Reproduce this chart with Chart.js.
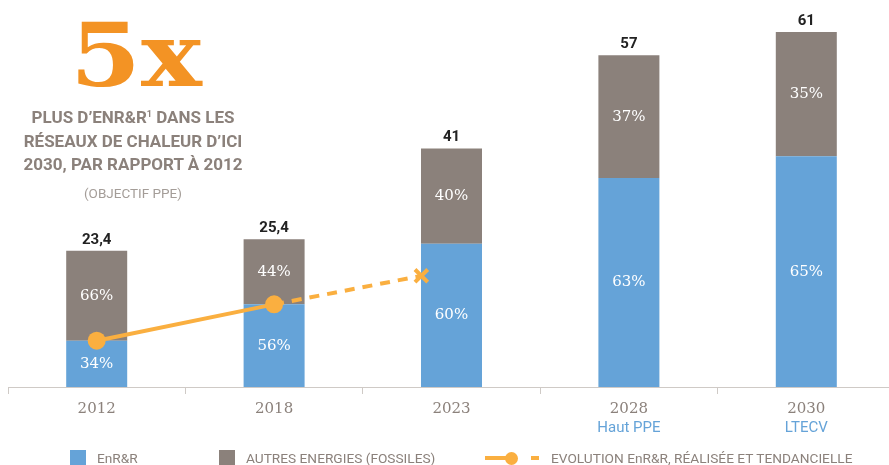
<!DOCTYPE html>
<html><head><meta charset="utf-8">
<script src="https://cdn.jsdelivr.net/npm/chart.js@4.4.1/dist/chart.umd.min.js"></script>
<style>
html,body{margin:0;padding:0;background:#fff;overflow:hidden;width:889px;height:465px;}
#wrap{position:absolute;left:0;top:0;width:895px;height:465px;}
.abs{position:absolute;white-space:nowrap;}
#big{left:3px;top:11px;width:266px;height:88px;text-align:center;font-family:'DejaVu Serif';font-weight:bold;font-size:88px;line-height:88px;color:#F39324;transform:scaleX(1.16);transform-origin:133px 50%;}
#head{left:0;top:106px;width:266px;text-align:center;font:bold 17px/23.5px Roboto,sans-serif;color:#8B817B;}
#obj{left:0;top:185px;width:266px;text-align:center;font:400 13.5px/16px Roboto,sans-serif;color:#a49d98;}
.lg{font:13.7px/16px Roboto,sans-serif;color:#8B817B;top:450px;}
.sq{width:16px;height:16px;top:450px;}
</style></head>
<body>
<div id="wrap"><canvas id="c" width="895" height="465"></canvas></div>
<div class="abs" id="big">5x</div>
<div class="abs" id="head">PLUS D’ENR&amp;R<sup style="font-size:9px;vertical-align:6px;line-height:0">1</sup> DANS LES<br>RÉSEAUX DE CHALEUR D’ICI<br>2030, PAR RAPPORT À 2012</div>
<div class="abs" id="obj">(OBJECTIF PPE)</div>
<div class="abs sq" style="left:70px;background:#65A3D8"></div>
<div class="abs lg" style="left:97px">EnR&amp;R</div>
<div class="abs sq" style="left:219px;background:#8B817B"></div>
<div class="abs lg" style="left:246px">AUTRES ENERGIES (FOSSILES)</div>
<div class="abs" style="left:485px;top:456px;width:24px;height:4px;background:#FAAF40"></div>
<div class="abs" style="left:505px;top:452px;width:13px;height:13px;border-radius:50%;background:#FAAF40"></div>
<div class="abs" style="left:531px;top:456px;width:8px;height:4px;background:#FAAF40"></div>
<div class="abs lg" style="left:551px">EVOLUTION EnR&amp;R, RÉALISÉE ET TENDANCIELLE</div>
<script>
const years = ['2012','2018','2023','2028','2030'];
const subLabels = ['','','','Haut PPE','LTECV'];
const totals = [23.4, 25.4, 41, 57, 61];
const totalLabels = ['23,4','25,4','41','57','61'];
const enrPct = [34, 56, 60, 63, 65];
const otherPct = [66, 44, 40, 37, 35];
const lineX = [0, 1, 1.83];
const lineY = [7.96, 14.2, 19.1];

const enrVals = totals.map((t,i)=>t*enrPct[i]/100);
const otherVals = totals.map((t,i)=>t-enrVals[i]);

const BLUE='#65A3D8', GREY='#8B817B', ORANGE='#FAAF40';
const SERIF="'DejaVu Serif'";

const labelPlugin = {
  id:'labels',
  afterDatasetsDraw(chart){
    const ctx = chart.ctx;
    ctx.save();
    const m0 = chart.getDatasetMeta(0), m1 = chart.getDatasetMeta(1);
    ctx.textAlign='center'; ctx.textBaseline='middle';
    ctx.fillStyle='#fff';
    ctx.font='15px '+SERIF;
    [[m0,enrPct],[m1,otherPct]].forEach(([m,p])=>{
      m.data.forEach((el,i)=>{
        const y=(el.y+el.base)/2;
        ctx.fillText(p[i]+'%', el.x, y);
      });
    });
    ctx.fillStyle='#222';
    ctx.font='bold 15px Roboto';
    ctx.textBaseline='alphabetic';
    m1.data.forEach((el,i)=>{ ctx.fillText(totalLabels[i], el.x, el.y-7); });
    const xs = chart.scales.x;
    ctx.fillStyle=BLUE;
    ctx.font='15px Roboto';
    ctx.textBaseline='middle';
    subLabels.forEach((s,i)=>{ if(s) ctx.fillText(s, xs.getPixelForValue(i), 428); });
    ctx.restore();
  }
};

new Chart(document.getElementById('c'), {
  type:'bar',
  data:{
    labels: years,
    datasets:[
      {type:'bar', label:'EnR&R', data:enrVals, backgroundColor:BLUE, order:1, stack:'s', grouped:false, barPercentage:0.344, categoryPercentage:1, maxBarThickness:61},
      {type:'bar', label:'AUTRES ENERGIES (FOSSILES)', data:otherVals, backgroundColor:GREY, order:1, stack:'s', grouped:false, barPercentage:0.344, categoryPercentage:1, maxBarThickness:61},
      {type:'line', label:'EVOLUTION', xAxisID:'xl', yAxisID:'y', order:0,
        data: lineX.map((x,i)=>({x:x, y:lineY[i]})),
        borderColor:ORANGE, backgroundColor:ORANGE, borderWidth:4,
        pointStyle:['circle','circle','crossRot'], pointRadius:[9,9,9],
        pointBorderWidth:[0,0,4], pointBorderColor:ORANGE, pointBackgroundColor:ORANGE,
        segment:{borderDash: c => c.p0DataIndex>=1 ? [10,8] : undefined},
        fill:false, tension:0}
    ]
  },
  options:{
    responsive:false, animation:false, devicePixelRatio:1,
    layout:{autoPadding:false, padding:{left:8,right:0,top:0,bottom:0}},
    plugins:{legend:{display:false}, tooltip:{enabled:false}},
    scales:{
      x:{type:'category', stacked:true, offset:true,
        grid:{display:true, offset:true, drawOnChartArea:false, drawTicks:true, tickLength:7, color:'#CFCAC6', lineWidth:1},
        border:{display:true, color:'#CFCAC6', width:1},
        ticks:{color:GREY, font:{family:SERIF, size:15}, padding:6, maxRotation:0, autoSkip:false},
        afterFit(s){ s.height = 78; }
      },
      xl:{type:'linear', display:false, offset:false, bounds:'data', grid:{offset:false}, min:-0.5, max:4.5},
      y:{stacked:true, display:false, min:0, max:66.5}
    }
  },
  plugins:[labelPlugin]
});
</script>
</body></html>
